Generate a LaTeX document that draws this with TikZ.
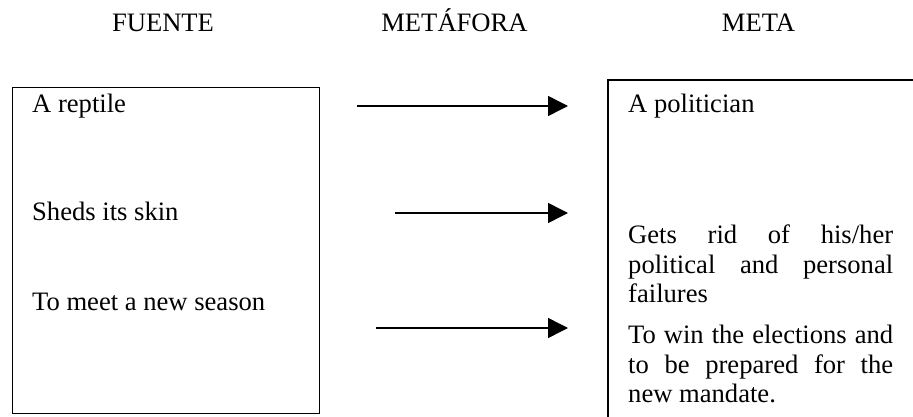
\documentclass[tikz,border=0pt]{standalone}
\usepackage{fontspec}
\setmainfont{Liberation Serif}
\usetikzlibrary{arrows.meta}
\begin{document}
\begin{tikzpicture}[x=1pt,y=-1pt,
  heading/.style={anchor=base, inner sep=0pt, font=\fontsize{26.6}{30}\selectfont},
  txt/.style={anchor=base west, inner sep=0pt, font=\fontsize{26.6}{30}\selectfont},
  srcbox/.style={draw, line width=1.3pt, inner sep=0pt, anchor=north west},
  tgtbox/.style={draw, line width=2pt, inner sep=0pt, anchor=north west},
  maparrow/.style={-{Triangle[length=20pt,width=20pt]}, line width=1.5pt},
]
\useasboundingbox (0,0) rectangle (913,417);
\clip (0,0) rectangle (913,417);

% column headings
\node[heading] (fuente)   at (163,32)   {FUENTE};
\node[heading] (metafora) at (454.5,32) {METÁFORA};
\node[heading] (meta)     at (758.5,32) {META};

% source domain box
\node[srcbox, minimum width=307pt, minimum height=326pt] (src) at (12,87) {};
\node[txt] (s1) at (32,113) {A reptile};
\node[txt] (s2) at (32,220) {Sheds its skin};
\node[txt] (s3) at (32,310) {To meet a new season};

% target domain box (runs past the right and bottom edges)
\node[tgtbox, minimum width=340pt, minimum height=360pt] (tgt) at (607,79) {};
\node[txt] (t1)  at (628,113) {A politician};
\node[txt] (t2a) at (628,243) {\makebox[265pt][s]{Gets rid of his/her}};
\node[txt] (t2b) at (628,273) {\makebox[265pt][s]{political and personal}};
\node[txt] (t2c) at (628,302) {failures};
\node[txt] (t3a) at (628,343) {\makebox[265pt][s]{To win the elections and}};
\node[txt] (t3b) at (628,373) {\makebox[265pt][s]{to be prepared for the}};
\node[txt] (t3c) at (628,402) {new mandate.};

% mapping arrows
\coordinate (a1s) at (357,106);
\coordinate (a1e) at (568,106);
\coordinate (a2s) at (395,213);
\coordinate (a2e) at (568,213);
\coordinate (a3s) at (376,328);
\coordinate (a3e) at (568,328);
\draw[maparrow] (a1s) -- (a1e);
\draw[maparrow] (a2s) -- (a2e);
\draw[maparrow] (a3s) -- (a3e);
\end{tikzpicture}
\end{document}
